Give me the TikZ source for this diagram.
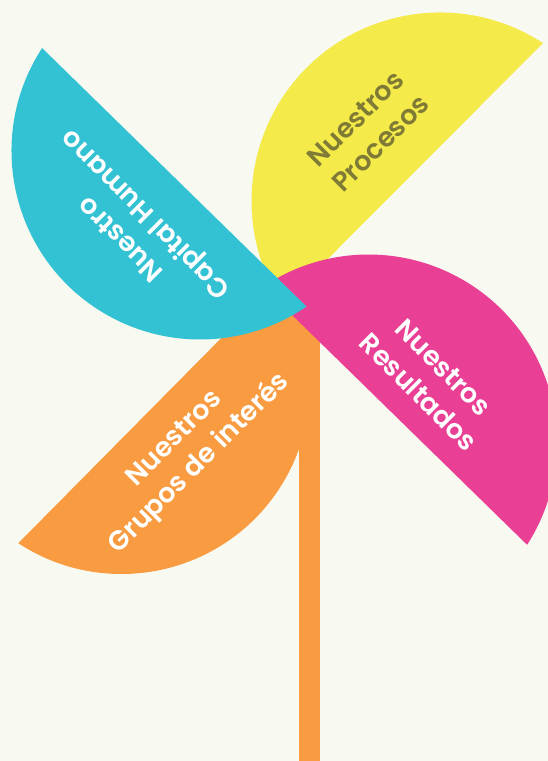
\documentclass[tikz,border=0pt]{standalone}
\usepackage{fontspec}
\setmainfont{Poppins}[BoldFont={Poppins SemiBold}]
\definecolor{bgcream}{HTML}{F8F9F0}
\definecolor{procyellow}{HTML}{F4EA4A}
\definecolor{capcyan}{HTML}{33C2D3}
\definecolor{respink}{HTML}{E94095}
\definecolor{gruorange}{HTML}{F99B40}
\definecolor{olivetext}{HTML}{7F7A35}

\begin{document}
\begin{tikzpicture}
[x=1pt,y=1pt,
 petaltext/.style={font=\bfseries\fontsize{27}{35}\selectfont,
                   align=center,text=white,inner sep=0pt}]

\fill[bgcream] (0,0) rectangle (548,761);
\useasboundingbox (0,0) rectangle (548,761);

% centres of the four half discs
\coordinate (yc) at (440,560);
\coordinate (oc) at (121.5,375.5);
\coordinate (pc) at (368.5,318);
\coordinate (cc) at (200,610);

\fill[procyellow] (yc) ++(56.9:188.5) arc[start angle=56.9, end angle=213.3, radius=188.5] -- cycle;
\fill[gruorange] (oc) ++(236.8:188.5) arc[start angle=236.8, end angle=393.8, radius=188.5] -- cycle;
\fill[gruorange] (299,0) rectangle (320,450);
\fill[respink] (pc) ++(-32.7:188.5) arc[start angle=-32.7, end angle=124, radius=188.5] -- cycle;
\fill[capcyan] (cc) ++(146.9:188.5) arc[start angle=146.9, end angle=304.4, radius=188.5] -- cycle;

\node[petaltext, text=olivetext, rotate=45] (procesos) at (368,630) {Nuestros\\Procesos};
\node[petaltext, rotate=135] (humano) at (135,536) {Nuestro\\Capital Humano};
\node[petaltext, rotate=-45] (resultados) at (431,381) {Nuestros\\Resultados};
\node[petaltext, rotate=45] (grupos) at (188,309) {Nuestros\\Grupos de interés};
\end{tikzpicture}
\end{document}
